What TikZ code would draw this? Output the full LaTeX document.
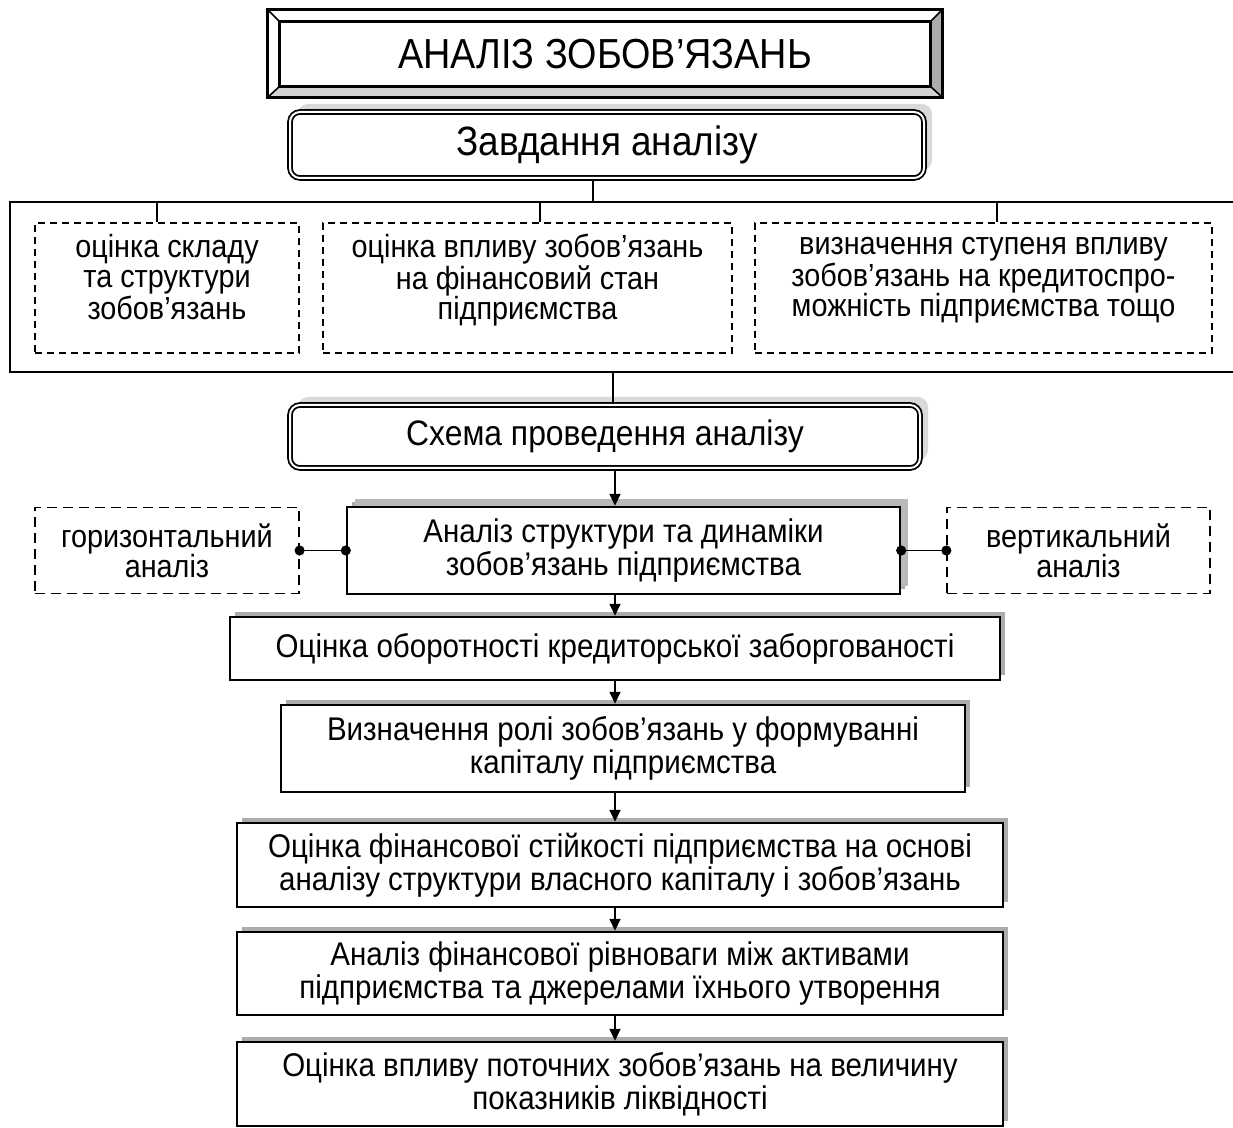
\documentclass[tikz,border=0pt]{standalone}
\usepackage{fontspec}
\setmainfont{Liberation Sans}[FakeStretch=0.9]
\usetikzlibrary{arrows.meta,shadows,calc}
\begin{document}
\begin{tikzpicture}[x=0.5pt,y=-0.5pt,
    txt/.style={font=\fontsize{16.4}{16.5}\selectfont,align=center,inner sep=0pt},
    flowbox/.style={txt,draw,line width=1.2pt,fill=white,
        drop shadow={shadow xshift=2.5pt,shadow yshift=2.5pt,fill=gray!65,opacity=1}},
    dashbox/.style={txt,font=\fontsize{16}{15}\selectfont,draw,line width=0.6pt,dash pattern=on 3.5pt off 2.5pt},
    longdash/.style={txt,font=\fontsize{16}{15}\selectfont,draw,line width=0.6pt,dash pattern=on 5pt off 3pt},
    roundbox/.style={txt,draw,line width=0.9pt,double,double distance=1pt,rounded corners=5pt,fill=white,
        drop shadow={shadow xshift=4pt,shadow yshift=4pt,fill=gray!30,opacity=1}},
    arr/.style={line width=0.8pt,-{Triangle[length=6pt,width=5.5pt]}},
    dotline/.style={line width=0.8pt,{Circle[length=5pt]}-{Circle[length=5pt]},shorten <=-2.5pt,shorten >=-2.5pt}]
    \useasboundingbox (0,0) rectangle (1233,1128);

    % title
    \node[txt,minimum width=325pt,minimum height=32pt,font=\fontsize{21}{24}\selectfont] (title) at (605,54) {АНАЛІЗ ЗОБОВ’ЯЗАНЬ};
    \coordinate (tnw) at ($(title.north west)+(-12,-12)$);\coordinate (tne) at ($(title.north east)+(12,-12)$);
    \coordinate (tsw) at ($(title.south west)+(-12,11)$);\coordinate (tse) at ($(title.south east)+(12,11)$);
    \fill[gray!35] (tsw) -- (tse) -- (title.south east) -- (title.south west) -- cycle;
    \fill[gray!65] (tne) -- (tse) -- (title.south east) -- (title.north east) -- cycle;
    \draw[line width=1.2pt] (tnw) rectangle (tse);
    \draw[line width=1.2pt] (title.north west) rectangle (title.south east);
    \draw[line width=0.8pt] (tnw) -- (title.north west) (tne) -- (title.north east) (tsw) -- (title.south west) (tse) -- (title.south east);

    % tasks
    \node[roundbox,minimum width=317pt,minimum height=33pt,font=\fontsize{20.5}{24}\selectfont] (zavd) at (607,145) {Завдання аналізу};
    \coordinate (ztop) at (593,202);\coordinate (fbot) at (613,372);
    \draw[line width=1pt] (1233,202) -- (10,202) -- (10,372) -- (1233,372);
    \draw[line width=0.8pt] (zavd.south -| ztop) -- (ztop);

    \node[dashbox,minimum width=132pt,minimum height=65pt] (d1) at (167,288) {оцінка складу\\та структури\\зобов’язань\\[-4pt]~};
    \node[dashbox,minimum width=204.5pt,minimum height=65pt] (d2) at (527.5,288) {оцінка впливу зобов’язань\\на фінансовий стан\\підприємства\\[-4pt]~};
    \node[dashbox,minimum width=228.5pt,minimum height=65pt] (d3) at (983.5,288) {визначення ступеня впливу\\зобов’язань на кредитоспро-\\можність підприємства тощо\\[-4pt]~};
    \coordinate (t1) at (157,202);\coordinate (t2) at (540,202);\coordinate (t3) at (997,202);
    \draw[line width=0.8pt] (t1) -- (d1.north -| t1) (t2) -- (d2.north -| t2) (t3) -- (d3.north -| t3);

    % scheme
    \node[roundbox,minimum width=315pt,minimum height=31.5pt,font=\fontsize{17.7}{20}\selectfont] (schema) at (605,436.5) {Схема проведення аналізу};
    \draw[line width=0.8pt] (fbot) -- (schema.north -| fbot);

    \node[flowbox,minimum width=276.5pt,minimum height=43.5pt,font=\fontsize{16.4}{15}\selectfont,
        drop shadow={shadow xshift=4pt,shadow yshift=4pt,fill=gray!55,opacity=1}] (an) at (623.5,550.5) {Аналіз структури та динаміки\\зобов’язань підприємства};
    \node[longdash,minimum width=132pt,minimum height=43pt] (hor) at (167,550.5) {горизонтальний\\аналіз};
    \node[longdash,minimum width=131.5pt,minimum height=43pt] (ver) at (1078.5,550.5) {вертикальний\\аналіз};
    \draw[dotline] (hor.east) -- (an.west);
    \draw[dotline] (an.east) -- (ver.west);

    \node[flowbox,minimum width=385pt,minimum height=31.5pt] (b1) at (615,648.5) {Оцінка оборотності кредиторської заборгованості};
    \node[flowbox,minimum width=342pt,minimum height=43.5pt] (b2) at (623,748.5) {Визначення ролі зобов’язань у формуванні\\капіталу підприємства};
    \node[flowbox,minimum width=383pt,minimum height=42pt] (b3) at (620,865) {Оцінка фінансової стійкості підприємства на основі\\аналізу структури власного капіталу і зобов’язань};
    \node[flowbox,minimum width=383pt,minimum height=41.5pt] (b4) at (620,973.5) {Аналіз фінансової рівноваги між активами\\підприємства та джерелами їхнього утворення};
    \node[flowbox,minimum width=383pt,minimum height=42pt] (b5) at (620,1084) {Оцінка впливу поточних зобов’язань на величину\\показників ліквідності};

    % arrows
    \coordinate (ax) at (615,0);
    \draw[arr] (schema.south -| ax) -- (an.north -| ax);
    \draw[arr] (an.south -| ax) -- (b1.north -| ax);
    \draw[arr] (b1.south -| ax) -- (b2.north -| ax);
    \draw[arr] (b2.south -| ax) -- (b3.north -| ax);
    \draw[arr] (b3.south -| ax) -- (b4.north -| ax);
    \draw[arr] (b4.south -| ax) -- (b5.north -| ax);
\end{tikzpicture}
\end{document}
